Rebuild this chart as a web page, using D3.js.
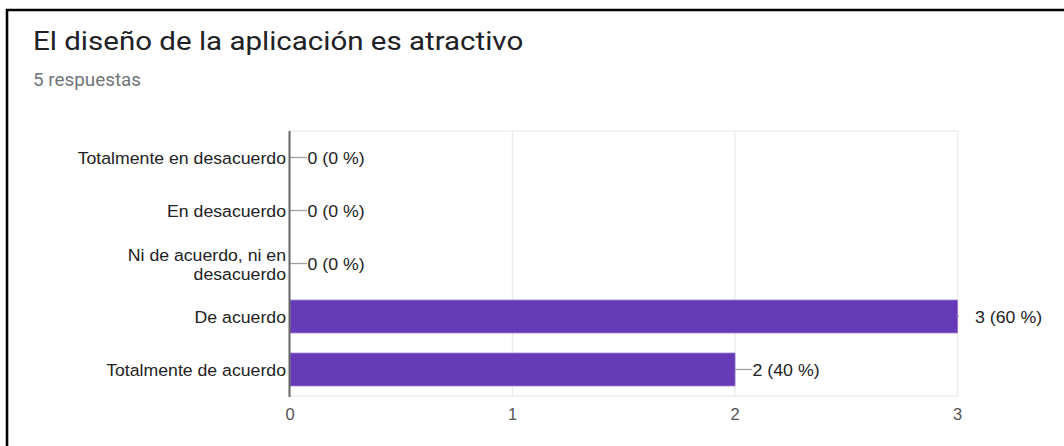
<!DOCTYPE html>
<html>
<head>
<meta charset="utf-8">
<script src="https://cdn.jsdelivr.net/npm/d3@7"></script>
<style>
  html, body { margin: 0; padding: 0; background: #fff; }
  svg { display: block; }
</style>
</head>
<body>
<svg id="chart" width="1064" height="446"></svg>
<script>
// Survey question and answers
const title = "El diseño de la aplicación es atractivo";
const subtitle = "5 respuestas";
const categories = [
  ["Totalmente en desacuerdo"],
  ["En desacuerdo"],
  ["Ni de acuerdo, ni en", "desacuerdo"],
  ["De acuerdo"],
  ["Totalmente de acuerdo"]
];
const counts = [0, 0, 0, 3, 2];
const percents = [0, 0, 0, 60, 40];
const ticks = [0, 1, 2, 3];

const svg = d3.select("#chart");
const W = 1064, H = 446;
const plot = { left: 290, right: 957.5, top: 131, bottom: 396 };
const ARIAL = "Arial, 'Liberation Sans', sans-serif";
const ROBOTO = "Roboto, Arial, sans-serif";

// text placed at (x, y) with a horizontal stretch sx
function stretchedText(parent, x, y, sx) {
  return parent.append("g")
    .attr("transform", `translate(${x},${y}) scale(${sx},1)`)
    .append("text");
}

// card frame
svg.append("path")
  .attr("d", `M7,${H + 5} V10 H${W + 5}`)
  .attr("fill", "none")
  .attr("stroke", "#000")
  .attr("stroke-width", 2.6);

stretchedText(svg, 33, 50, 1.18)
  .attr("font-family", ROBOTO)
  .attr("font-size", 25)
  .attr("fill", "#202124")
  .text(title);

stretchedText(svg, 33, 85.5, 1.06)
  .attr("font-family", ROBOTO)
  .attr("font-size", 17.8)
  .attr("fill", "#70757a")
  .text(subtitle);

const x = d3.scaleLinear().domain([0, 3]).range([plot.left, plot.right]);
const y = d3.scaleBand().domain(d3.range(categories.length))
  .range([plot.top, plot.bottom]).paddingInner(0.38).paddingOuter(0.19);

// grid
const g = svg.append("g");
g.append("line")
  .attr("x1", plot.left).attr("x2", plot.right + 1)
  .attr("y1", plot.top).attr("y2", plot.top)
  .attr("stroke", "#ececec").attr("stroke-width", 1.4);
g.append("line")
  .attr("x1", plot.left).attr("x2", plot.right + 1)
  .attr("y1", plot.bottom).attr("y2", plot.bottom)
  .attr("stroke", "#ececec").attr("stroke-width", 1.4);
g.selectAll("line.grid").data(ticks.filter(t => t > 0)).join("line")
  .attr("class", "grid")
  .attr("x1", d => x(d)).attr("x2", d => x(d))
  .attr("y1", plot.top).attr("y2", plot.bottom)
  .attr("stroke", "#ececec").attr("stroke-width", 1.4);

// bars
svg.selectAll("rect.bar").data(counts).join("rect")
  .attr("class", "bar")
  .attr("x", x(0))
  .attr("y", (d, i) => y(i))
  .attr("width", d => x(d) - x(0))
  .attr("height", y.bandwidth())
  .attr("fill", "#673ab7")
  .attr("stroke", "#8e6acb")
  .attr("stroke-width", d => d > 0 ? 0.8 : 0);

// value labels with leader lines (leaders clipped to the plot area)
svg.append("clipPath").attr("id", "plotclip")
  .append("rect").attr("x", plot.left).attr("y", plot.top)
  .attr("width", plot.right - plot.left + 1.5).attr("height", plot.bottom - plot.top);

const labels = svg.append("g");
counts.forEach((c, i) => {
  const cy = y(i) + y.bandwidth() / 2;
  const x0 = x(c);
  labels.append("line")
    .attr("clip-path", "url(#plotclip)")
    .attr("x1", x0).attr("x2", x0 + 17)
    .attr("y1", cy).attr("y2", cy)
    .attr("stroke", "#9e9e9e").attr("stroke-width", 1.3);
  stretchedText(labels, x0 + 17.5, cy + 0.5, 1.09)
    .attr("dy", "0.35em")
    .attr("font-family", ARIAL)
    .attr("font-size", 16.3)
    .attr("fill", "#222")
    .text(`${c} (${percents[i]} %)`);
});

// y axis line
svg.append("line")
  .attr("x1", plot.left - 0.5).attr("x2", plot.left - 0.5)
  .attr("y1", plot.top).attr("y2", plot.bottom + 1)
  .attr("stroke", "#666").attr("stroke-width", 2);

// category labels
categories.forEach((lines, i) => {
  const cy = y(i) + y.bandwidth() / 2 + 0.8;
  const lh = 19;
  const t = stretchedText(svg, 286, cy, 1.085)
    .attr("text-anchor", "end")
    .attr("font-family", ARIAL)
    .attr("font-size", 16.3)
    .attr("fill", "#222");
  lines.forEach((ln, k) => {
    t.append("tspan")
      .attr("x", 0)
      .attr("y", (k - (lines.length - 1) / 2) * lh)
      .attr("dy", "0.35em")
      .text(ln);
  });
});

// x tick labels
svg.selectAll("text.tick").data(ticks).join("text")
  .attr("class", "tick")
  .attr("x", d => x(d))
  .attr("y", 414)
  .attr("dy", "0.35em")
  .attr("text-anchor", "middle")
  .attr("font-family", ARIAL)
  .attr("font-size", 16.5)
  .attr("fill", "#555")
  .text(d => d);
</script>
</body>
</html>
